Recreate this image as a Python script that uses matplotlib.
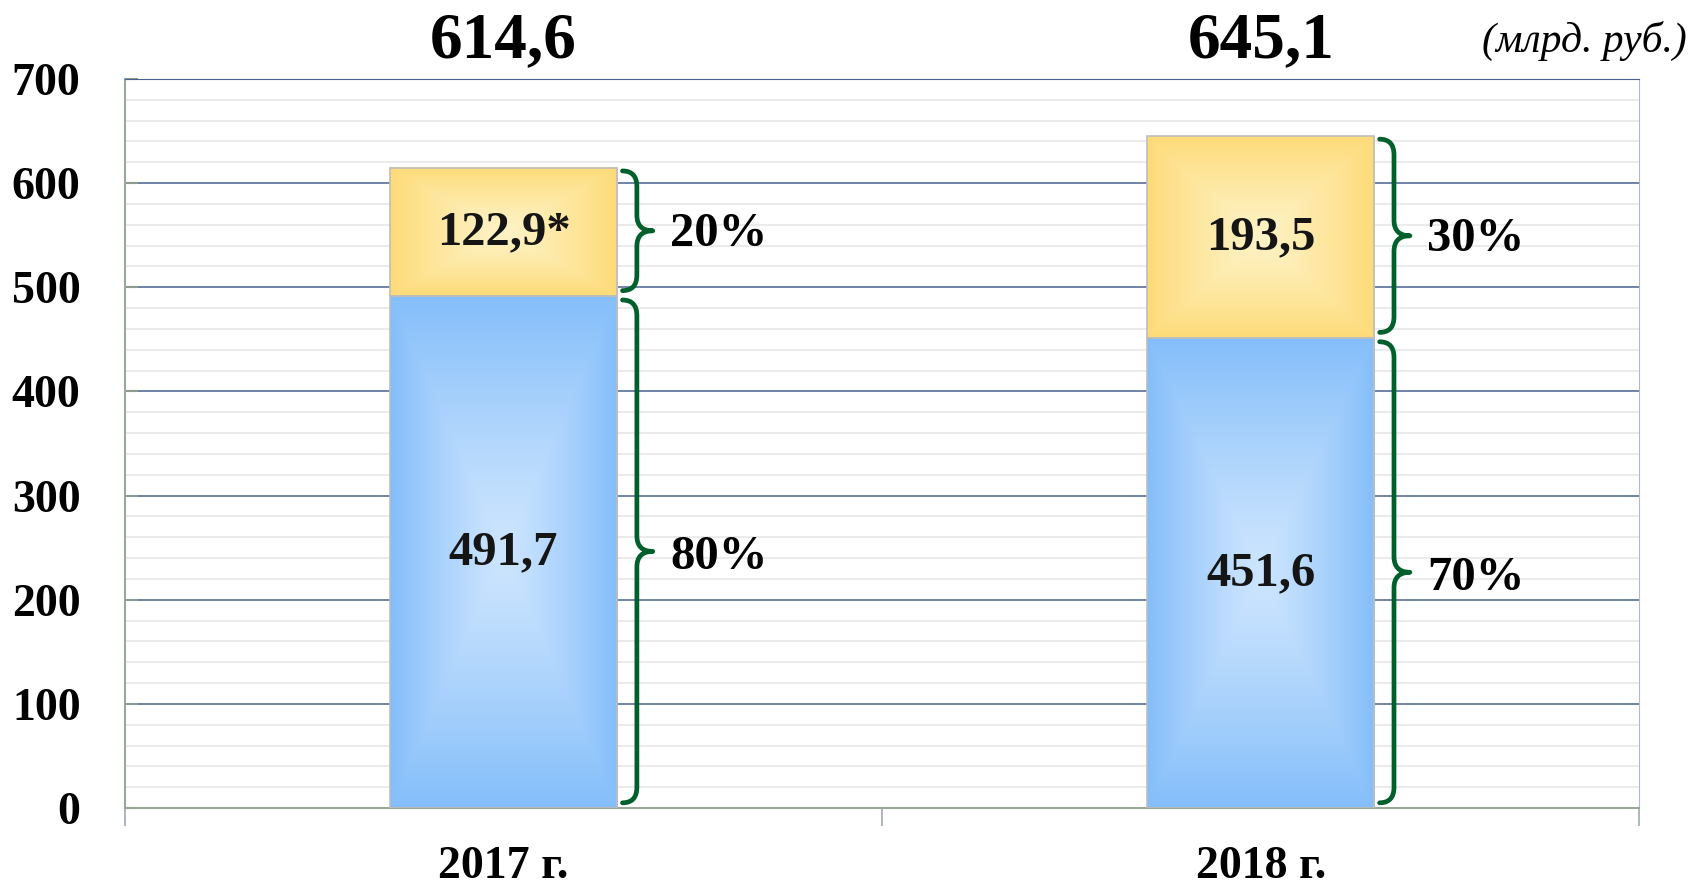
import numpy as np
import matplotlib.pyplot as plt
from matplotlib.path import Path
from matplotlib.patches import PathPatch
from matplotlib.colors import LinearSegmentedColormap
import matplotlib.transforms as mtransforms

# data
years = ["2017 г.", "2018 г."]
base_vals = [491.7, 451.6]
top_vals = [122.9, 193.5]
base_labels = ["491,7", "451,6"]
top_labels = ["122,9*", "193,5"]
totals = ["614,6", "645,1"]
base_pct = ["80%", "70%"]
top_pct = ["20%", "30%"]
y_ticks = [0, 100, 200, 300, 400, 500, 600, 700]

plt.rcParams['font.family'] = ['Liberation Serif', 'DejaVu Serif']

fig = plt.figure(figsize=(16.9, 8.86), dpi=100)
ax = fig.add_axes([0.074, 0.088, 0.896, 0.823])

x = np.arange(len(years))
width = 0.30

blue_cmap = LinearSegmentedColormap.from_list("b", ["#CDE5FE", "#84BEFA"])
yell_cmap = LinearSegmentedColormap.from_list("y", ["#FEF3C6", "#FDDB78"])

def gradient_fill(patch, cmap):
    # rectangular "from center" gradient like Excel
    bb = patch.get_bbox()
    u = np.linspace(-1, 1, 200)
    v = np.linspace(-1, 1, 400)
    U, V = np.meshgrid(u, v)
    t = np.maximum(np.abs(U), np.abs(V)) ** 1.2
    ax.imshow(t, cmap=cmap, vmin=0, vmax=1, aspect='auto',
              extent=[bb.x0, bb.x1, bb.y0, bb.y1], zorder=2,
              interpolation='bilinear')

b1 = ax.bar(x, base_vals, width, facecolor='none', edgecolor='#BDBDBD', lw=1.2, zorder=3)
b2 = ax.bar(x, top_vals, width, bottom=base_vals, facecolor='none',
            edgecolor='#BDBDBD', lw=1.2, zorder=3)
for p in b1:
    gradient_fill(p, blue_cmap)
for p in b2:
    gradient_fill(p, yell_cmap)

def brace(xe, y_top, y_bot, r=15):
    x0, xs, xt = xe + 0.007, xe + 0.026, xe + 0.047
    ym = (y_top + y_bot) / 2
    verts = [(x0, y_top), (xs, y_top), (xs, y_top - r),
             (xs, ym + r), (xs, ym), (xt, ym), (xs, ym), (xs, ym - r),
             (xs, y_bot + r), (xs, y_bot), (x0, y_bot)]
    codes = [Path.MOVETO, Path.CURVE3, Path.CURVE3,
             Path.LINETO, Path.CURVE3, Path.CURVE3, Path.CURVE3, Path.CURVE3,
             Path.LINETO, Path.CURVE3, Path.CURVE3]
    ax.add_patch(PathPatch(Path(verts, codes), fill=False, edgecolor='#00602B',
                           lw=3.4, capstyle='round', joinstyle='round', zorder=4))
    return ym

for i in range(len(years)):
    xe = x[i] + width / 2
    b = base_vals[i]
    t = base_vals[i] + top_vals[i]
    ax.text(x[i], b / 2, base_labels[i], ha='center', va='center',
            fontsize=35, fontweight='bold', color='#151515', zorder=5)
    ax.text(x[i], b + top_vals[i] / 2, top_labels[i], ha='center', va='center',
            fontsize=35, fontweight='bold', color='#151515', zorder=5)
    m1 = brace(xe, b - 4, 5)
    m2 = brace(xe, t - 3, b + 5)
    ax.text(xe + 0.07, m1 - 5, base_pct[i], ha='left', va='center',
            fontsize=35, fontweight='bold', zorder=5)
    ax.text(xe + 0.07, m2 - 3, top_pct[i], ha='left', va='center',
            fontsize=35, fontweight='bold', zorder=5)
    trans = mtransforms.blended_transform_factory(ax.transData, ax.transAxes)
    ax.text(x[i], 1.052, totals[i], transform=trans, ha='center', va='center',
            fontsize=47, fontweight='bold')

fig.text(0.998, 1 - 41 / 886, "(млрд. руб.)", ha='right', va='center',
         fontsize=30, style='italic')

ax.set_xlim(-0.5, 1.5)
ax.set_ylim(0, 700)
ax.set_yticks(y_ticks)
ax.set_yticklabels([str(v) for v in y_ticks], fontsize=33, fontweight='bold')
ax.set_yticks(np.arange(0, 701, 20), minor=True)
ax.grid(True, which='major', axis='y', color='#4A6191', lw=1.1, zorder=1)
ax.grid(True, which='minor', axis='y', color='#EBEBEB', lw=1.5, zorder=0.5)
ax.set_axisbelow(True)
ax.tick_params(axis='y', which='major', direction='in', length=9, color='#8C9C8C',
               pad=32, width=1.5)
ax.tick_params(axis='y', which='minor', length=0)

ax.set_xticks([-0.5, 0.5, 1.5])
ax.set_xticklabels([])
ax.set_xticks(x, minor=True)
ax.set_xticklabels(years, minor=True, fontsize=33, fontweight='bold')
ax.tick_params(axis='x', which='major', direction='out', length=13, color='#A0AAB0', width=1.2)
ax.tick_params(axis='x', which='minor', length=0, pad=27)

for s in ['left', 'bottom']:
    ax.spines[s].set_color('#98A898')
    ax.spines[s].set_linewidth(1.5)
ax.spines['right'].set_color('#AEB8C8')
ax.spines['top'].set_color('#4A6191')

plt.savefig('out.png', dpi=100)
